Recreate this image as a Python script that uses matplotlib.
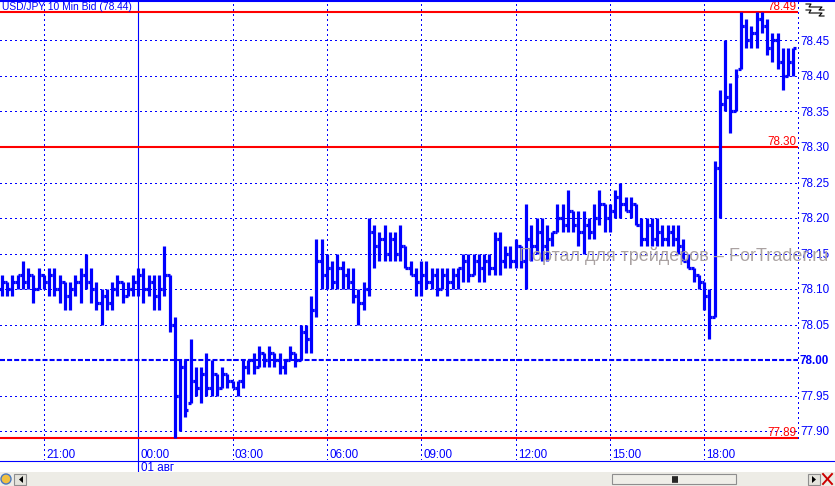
import matplotlib
matplotlib.use("Agg")
import matplotlib.pyplot as plt
from matplotlib.collections import LineCollection
from matplotlib.patches import Rectangle, Polygon, Circle
from matplotlib.lines import Line2D
from matplotlib.transforms import Affine2D, blended_transform_factory
import numpy as np
import pandas as pd

W, H = 835, 486
BLUE = "#0000ff"
RED = "#ff0000"

# 10 minute USD/JPY bid bars, starting 31 Jul 19:40
START = "2012-07-31 19:40"
opens = [78.10, 78.11, 78.10, 78.11, 78.12, 78.11, 78.12, 78.10, 78.12, 78.11,
         78.12, 78.10, 78.11, 78.09, 78.10, 78.11, 78.12, 78.11, 78.10, 78.08,
         78.09, 78.08, 78.10, 78.11, 78.09, 78.10, 78.11, 78.12, 78.10, 78.11,
         78.09, 78.10, 78.12, 78.05, 77.95, 77.99, 77.94, 77.97, 77.96, 77.98,
         77.96, 77.98, 77.96, 77.98, 77.97, 77.96, 77.97, 77.99, 78.00, 77.99,
         78.01, 78.00, 78.01, 78.00, 77.99, 78.00, 78.01, 78.00, 78.04, 78.03,
         78.07, 78.14, 78.12, 78.13, 78.11, 78.13, 78.12, 78.11, 78.09, 78.08,
         78.10, 78.18, 78.16, 78.17, 78.15, 78.17, 78.15, 78.16, 78.13, 78.12,
         78.11, 78.12, 78.11, 78.12, 78.10, 78.12, 78.11, 78.12, 78.13, 78.14,
         78.12, 78.14, 78.13, 78.14, 78.13, 78.17, 78.14, 78.15, 78.14, 78.16,
         78.14, 78.17, 78.16, 78.18, 78.16, 78.17, 78.18, 78.20, 78.19, 78.21,
         78.19, 78.18, 78.19, 78.18, 78.20, 78.22, 78.20, 78.21, 78.23, 78.22,
         78.21, 78.22, 78.19, 78.17, 78.19, 78.17, 78.18, 78.17, 78.18, 78.17,
         78.16, 78.14, 78.13, 78.12, 78.11, 78.09, 78.06, 78.27, 78.36, 78.37,
         78.35, 78.41, 78.47, 78.45, 78.46, 78.48, 78.47, 78.44, 78.45, 78.42,
         78.40, 78.42]
highs = [78.12, 78.11, 78.12, 78.12, 78.14, 78.13, 78.12, 78.13, 78.12, 78.13,
         78.13, 78.12, 78.11, 78.11, 78.12, 78.13, 78.15, 78.13, 78.11, 78.10,
         78.10, 78.11, 78.12, 78.11, 78.11, 78.12, 78.13, 78.13, 78.12, 78.12,
         78.12, 78.16, 78.12, 78.06, 78.00, 78.00, 78.03, 77.99, 77.99, 78.01,
         78.00, 77.98, 77.99, 77.98, 77.97, 77.97, 78.00, 78.00, 78.01, 78.02,
         78.01, 78.02, 78.01, 78.01, 78.00, 78.02, 78.01, 78.05, 78.05, 78.09,
         78.17, 78.17, 78.15, 78.14, 78.15, 78.14, 78.13, 78.13, 78.10, 78.11,
         78.20, 78.19, 78.18, 78.19, 78.18, 78.18, 78.19, 78.16, 78.14, 78.13,
         78.14, 78.14, 78.13, 78.13, 78.13, 78.13, 78.13, 78.13, 78.15, 78.15,
         78.15, 78.15, 78.15, 78.15, 78.18, 78.18, 78.16, 78.16, 78.17, 78.16,
         78.22, 78.19, 78.20, 78.20, 78.19, 78.18, 78.22, 78.22, 78.24, 78.21,
         78.21, 78.21, 78.20, 78.22, 78.24, 78.22, 78.22, 78.24, 78.25, 78.23,
         78.23, 78.22, 78.20, 78.20, 78.20, 78.20, 78.19, 78.19, 78.19, 78.19,
         78.17, 78.15, 78.13, 78.12, 78.11, 78.10, 78.28, 78.38, 78.45, 78.39,
         78.41, 78.49, 78.48, 78.47, 78.49, 78.49, 78.48, 78.46, 78.46, 78.44,
         78.44, 78.44]
lows = [78.09, 78.09, 78.09, 78.10, 78.10, 78.10, 78.08, 78.10, 78.10, 78.09,
        78.09, 78.08, 78.07, 78.07, 78.09, 78.08, 78.10, 78.08, 78.07, 78.05,
        78.07, 78.07, 78.09, 78.08, 78.09, 78.09, 78.09, 78.08, 78.09, 78.07,
        78.07, 78.09, 78.04, 77.89, 77.90, 77.92, 77.94, 77.95, 77.94, 77.95,
        77.95, 77.95, 77.96, 77.96, 77.96, 77.95, 77.96, 77.98, 77.98, 77.99,
        77.99, 77.99, 77.99, 77.98, 77.98, 78.00, 77.99, 78.00, 78.01, 78.01,
        78.06, 78.10, 78.10, 78.10, 78.10, 78.10, 78.10, 78.08, 78.05, 78.07,
        78.09, 78.13, 78.14, 78.14, 78.14, 78.14, 78.14, 78.13, 78.12, 78.09,
        78.09, 78.10, 78.10, 78.09, 78.10, 78.09, 78.10, 78.10, 78.11, 78.11,
        78.12, 78.11, 78.11, 78.12, 78.12, 78.12, 78.13, 78.13, 78.13, 78.13,
        78.10, 78.14, 78.15, 78.14, 78.14, 78.16, 78.18, 78.18, 78.18, 78.18,
        78.16, 78.15, 78.17, 78.17, 78.19, 78.18, 78.18, 78.20, 78.20, 78.21,
        78.20, 78.19, 78.16, 78.16, 78.16, 78.16, 78.16, 78.16, 78.16, 78.15,
        78.14, 78.13, 78.11, 78.10, 78.07, 78.03, 78.06, 78.20, 78.35, 78.32,
        78.35, 78.41, 78.44, 78.44, 78.44, 78.46, 78.43, 78.42, 78.41, 78.38,
        78.40, 78.40]
closes = [78.11, 78.10, 78.11, 78.12, 78.11, 78.12, 78.10, 78.12, 78.11, 78.12,
          78.10, 78.11, 78.09, 78.10, 78.11, 78.12, 78.11, 78.10, 78.08, 78.09,
          78.08, 78.10, 78.11, 78.09, 78.10, 78.11, 78.12, 78.10, 78.11, 78.09,
          78.10, 78.12, 78.05, 77.95, 77.99, 77.93, 77.97, 77.96, 77.98, 77.96,
          77.98, 77.96, 77.98, 77.97, 77.96, 77.97, 77.99, 78.00, 77.99, 78.01,
          78.00, 78.01, 78.00, 77.99, 78.00, 78.01, 78.00, 78.04, 78.03, 78.07,
          78.14, 78.12, 78.13, 78.11, 78.13, 78.12, 78.11, 78.09, 78.08, 78.10,
          78.18, 78.16, 78.17, 78.15, 78.17, 78.15, 78.16, 78.13, 78.12, 78.11,
          78.12, 78.11, 78.12, 78.10, 78.12, 78.11, 78.12, 78.13, 78.14, 78.12,
          78.14, 78.13, 78.14, 78.13, 78.17, 78.14, 78.15, 78.14, 78.16, 78.14,
          78.17, 78.16, 78.18, 78.16, 78.17, 78.18, 78.20, 78.19, 78.21, 78.19,
          78.18, 78.19, 78.18, 78.20, 78.22, 78.20, 78.21, 78.23, 78.22, 78.21,
          78.22, 78.19, 78.17, 78.19, 78.17, 78.18, 78.17, 78.18, 78.17, 78.16,
          78.14, 78.13, 78.12, 78.11, 78.09, 78.06, 78.27, 78.36, 78.37, 78.35,
          78.40, 78.47, 78.45, 78.46, 78.48, 78.47, 78.44, 78.45, 78.42, 78.40,
          78.42, 78.44]

price_ticks = [77.90, 77.95, 78.00, 78.05, 78.10, 78.15, 78.20, 78.25,
               78.30, 78.35, 78.40, 78.45]
red_levels = [78.49, 78.30, 77.89]
title = "USD/JPY 10 Min Bid (78.44)"
watermark = "Портал для трейдеров \u2013 ForTrader.ru"

plt.rcParams['font.family'] = ['Liberation Sans', 'DejaVu Sans']
FS = 8.4

times = pd.date_range(START, periods=len(closes), freq="10min")
xs = np.arange(len(closes))

fig = plt.figure(figsize=(W / 100, H / 100), dpi=100)
fig.patch.set_facecolor("white")
# pixel coordinates measured from the top-left corner
pix = Affine2D().scale(1 / W, -1 / H).translate(0, 1) + fig.transFigure

ax = fig.add_axes([0, 26 / H, 798 / W, 458 / H])
ax.set_xlim(-0.38, 151.9)
ax.set_ylim(77.8592, 78.5042)
ax.axis("off")
xpix = blended_transform_factory(ax.transData, pix)

dots = (0, (1, 3.3))
# horizontal grid
for p in price_ticks:
    if abs(p - 78.00) < 1e-9:
        ax.axhline(p, color=BLUE, lw=1.5, ls=(0, (2.4, 1.0)), zorder=1)
    else:
        ax.axhline(p, color=BLUE, lw=0.75, ls=dots, zorder=1, antialiased=False)

# vertical grid every 3 hours, solid at the day boundary
for i, t in enumerate(times):
    if t.minute == 0 and t.hour % 3 == 0:
        if t.hour == 0:
            ax.axvline(i, ymin=-12 / 458, ymax=1 + 2 / 458, color=BLUE, lw=0.8,
                       clip_on=False, zorder=1)
            ax.text(i + 0.45, 470.8, t.strftime("%d") + " авг", transform=xpix,
                    color=BLUE, fontsize=FS, va="baseline", ha="left")
        else:
            ax.axvline(i, color=BLUE, lw=0.75, ls=dots, zorder=1, antialiased=False)
        ax.text(i + 0.45, 457.5, t.strftime("%H:%M"), transform=xpix,
                color=BLUE, fontsize=FS, va="baseline", ha="left")

# right border (dotted)
ax.plot([1, 1], [ax.get_ylim()[1], 77.885],
        transform=blended_transform_factory(ax.transAxes, ax.transData),
        color=BLUE, lw=0.75, ls=dots, clip_on=False, antialiased=False)

# red level lines
for p in red_levels:
    ax.axhline(p, color=RED, lw=1.5, zorder=2)
    ax.annotate(f"{p:.2f}", xy=(1, p), xycoords=("axes fraction", "data"),
                xytext=(-1.0, 1.4), textcoords="offset points",
                ha="right", va="baseline", color=RED, fontsize=FS, zorder=4)

# price labels on the right
for p in price_ticks:
    bold = abs(p - 78.00) < 1e-9
    ax.annotate(f"{p:.2f}", xy=(1, p), xycoords=("axes fraction", "data"),
                xytext=(1.4, -3.2), textcoords="offset points",
                ha="left", va="baseline", color=BLUE, fontsize=FS,
                fontweight="bold" if bold else "normal", annotation_clip=False)

# watermark
fig.text(519, 260.5, watermark, transform=pix, fontsize=13, color="#aaa2a2",
         va="baseline", ha="left", zorder=0.5)

# OHLC bars
tk = 0.5
vert = [[(x, l), (x, h)] for x, l, h in zip(xs, lows, highs)]
otk = [[(x - tk, o), (x, o)] for x, o in zip(xs, opens)]
ctk = [[(x, c), (x + tk, c)] for x, c in zip(xs, closes)]
ax.add_collection(LineCollection(vert + otk + ctk, colors=BLUE, linewidths=2.3,
                                 capstyle="butt", zorder=3))

# frame lines and title
fig.add_artist(Line2D([0, W], [1, 1], transform=pix, color=BLUE, lw=1.5))
fig.add_artist(Line2D([0, W], [460.5, 460.5], transform=pix, color=BLUE, lw=0.8))
fig.text(2, 10.2, title, transform=pix, color=BLUE, fontsize=7.4, va="baseline", ha="left")

# small zigzag icon at the top right
for dy in (0, 6):
    fig.add_artist(Line2D([806, 811, 809, 822, 819, 824],
                          [4 + dy, 4 + dy, 7 + dy, 7 + dy, 10 + dy, 10 + dy],
                          transform=pix, color="black", lw=0.8))

# scrollbar strip at the bottom
fig.add_artist(Rectangle((0, 472), W, 14, transform=pix, facecolor="#edece6", edgecolor="none"))
fig.add_artist(Circle((6, 479), 5, transform=pix, facecolor="#f0c040", edgecolor="#4a78c0", lw=1))
fig.add_artist(Rectangle((612, 474), 124, 10, transform=pix, facecolor="#efeee8",
                         edgecolor="#8e8e8e", lw=0.8))
for gx in (672.5, 674.5, 676.5):
    fig.add_artist(Line2D([gx, gx], [476.5, 481.5], transform=pix, color="black", lw=1.2))
for bx, pts in ((14, [(23, 476), (23, 483), (19, 479.5)]),
                (808, [(812, 476), (812, 483), (816, 479.5)])):
    fig.add_artist(Rectangle((bx, 473.5), 12, 11, transform=pix, facecolor="#e4e3dc",
                             edgecolor="#8e8e8e", lw=0.8))
    fig.add_artist(Polygon(pts, closed=True, transform=pix, facecolor="black", edgecolor="none"))
fig.add_artist(Line2D([823, 832], [474, 484], transform=pix, color="#cc0000", lw=1.4))
fig.add_artist(Line2D([823, 832], [484, 474], transform=pix, color="#cc0000", lw=1.4))

fig.savefig("out.png", dpi=100, facecolor="white")
